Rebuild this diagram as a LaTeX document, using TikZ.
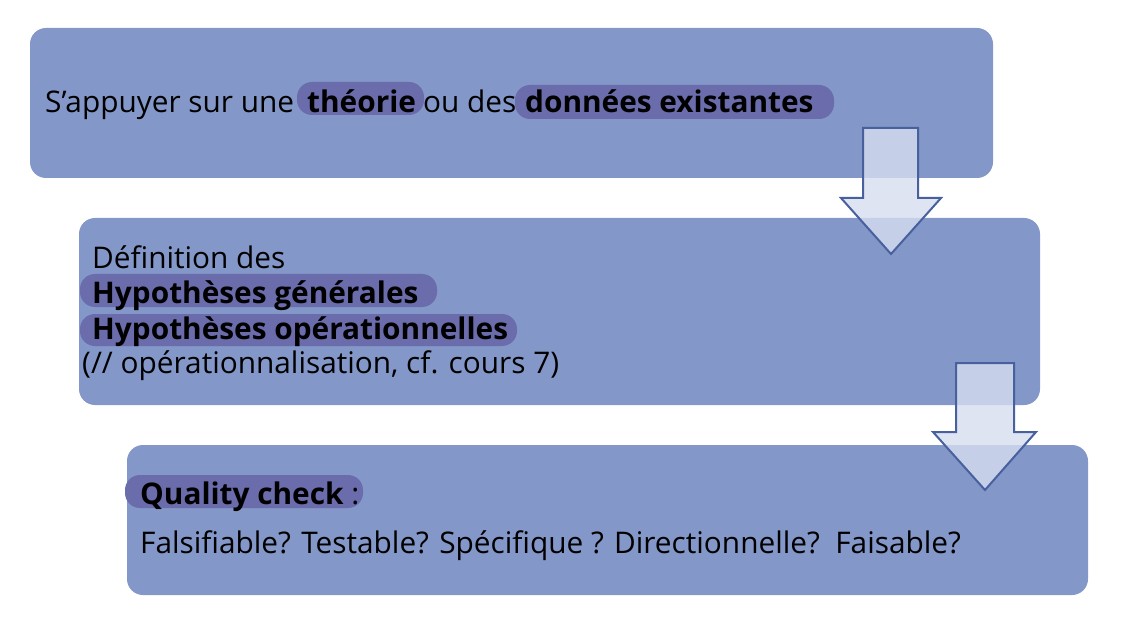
\documentclass[tikz,border=0pt]{standalone}
\usepackage{fontspec}
\setmainfont{Open Sans}
\definecolor{boxblue}{RGB}{131,151,200}
\definecolor{pill}{RGB}{106,108,172}
\definecolor{arrowfill}{RGB}{214,221,239}
\definecolor{arrowline}{RGB}{72,96,158}
\begin{document}
\begin{tikzpicture}[x=1pt,y=-1pt,
  stagebox/.style={fill=boxblue,rounded corners=16pt},
  pillbox/.style={fill=pill,rounded corners=15pt},
  txt/.style={anchor=base west,inner sep=0pt,font=\fontsize{29.8}{34}\selectfont},
  btxt/.style={txt,font=\fontsize{29.8}{34}\selectfont\bfseries},
  blockarrow/.style={fill=arrowfill,fill opacity=0.8,draw=arrowline,line width=2pt,line join=miter}]
\useasboundingbox (0,0) rectangle (1132,628);
% boxes
\fill[stagebox] (30,28) rectangle (993,178);
\fill[stagebox] (79,218) rectangle (1040,405);
\fill[stagebox] (127,445) rectangle (1088,595);
% pills
\fill[pillbox] (297,82) rectangle (424,115);
\fill[pillbox] (515,85) rectangle (834,119);
\fill[pillbox] (80,274) rectangle (437,307);
\fill[pillbox] (80,314) rectangle (517,346);
\fill[pillbox] (125,475) rectangle (363,508);
% texts
\node[txt] (t1a) at (45,113) {S’appuyer sur une};
\node[btxt] (t1b) at (307,113) {théorie};
\node[txt] (t1c) at (423,113) {ou des};
\node[btxt] (t1d) at (525,113) {données existantes};
\node[txt] (t2a) at (92,269) {Définition des};
\node[btxt] (t2b) at (92,304) {Hypothèses générales};
\node[btxt] (t2c) at (92,339) {Hypothèses opérationnelles};
\node[txt] (t2d) at (82,373) {(// opérationnalisation, cf. cours 7)};
\node[txt] (t3a) at (140,504) {\textbf{Quality check} :};
\node[txt] (t3b) at (140,553) {Falsifiable? Testable? Spécifique ? Directionnelle?\ \ Faisable?};
% block arrows
\draw[blockarrow] (863,128) -- (918,128) -- (918,198) -- (941,198) -- (891,254) -- (841,198) -- (863,198) -- cycle;
\draw[blockarrow] (956,363) -- (1014,363) -- (1014,432) -- (1036,432) -- (985,490) -- (933,432) -- (956,432) -- cycle;
\end{tikzpicture}
\end{document}
